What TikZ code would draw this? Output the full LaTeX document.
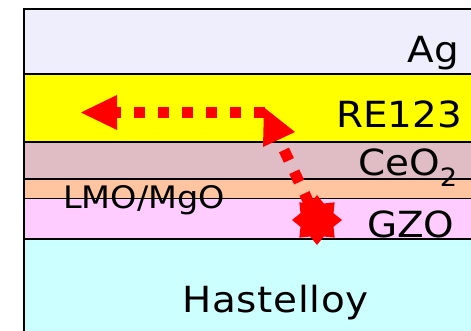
\documentclass[tikz,border=0pt]{standalone}
\usepackage{fontspec}
\setmainfont{DejaVu Sans}[FakeStretch=1.08]
\usetikzlibrary{shapes.geometric,arrows.meta}
\definecolor{agfill}{RGB}{238,238,252}
\definecolor{refill}{RGB}{255,255,0}
\definecolor{cefill}{RGB}{224,188,196}
\definecolor{lmofill}{RGB}{255,196,160}
\definecolor{gzofill}{RGB}{255,204,255}
\definecolor{hastfill}{RGB}{204,255,255}

\begin{document}
\begin{tikzpicture}
[
    x=1pt, y=-1pt,
    film/.style={draw=black, line width=1.3pt},
    filmtext/.style={inner sep=0pt, font=\fontsize{36}{40}\selectfont},
    hop/.style={red, line width=11pt, dash pattern=on 11.5pt off 12.5pt},
    defect/.style={star, star points=8, star point ratio=1.4, minimum size=50pt,
        inner sep=0pt, fill=red},
]
\useasboundingbox (0,0) rectangle (471,331);
\clip (0,0) rectangle (471,331);
\fill[white] (0,0) rectangle (471,331);
% the film stack
\filldraw[film, fill=agfill]   (24,9)     rectangle (480,74);
\filldraw[film, fill=refill]   (24,74)    rectangle (480,142);
\filldraw[film, fill=cefill]   (24,142)   rectangle (480,179);
\filldraw[film, fill=lmofill]  (24,179)   rectangle (480,198.5);
\filldraw[film, fill=gzofill]  (24,198.5) rectangle (480,239);
\filldraw[film, fill=hastfill] (24,239)   rectangle (480,340);
\draw[line width=2pt] (24,340) -- (24,9) -- (480,9);
\node[filmtext, anchor=base east] (ag) at (459,63) {Ag};
\node[filmtext, anchor=base east] (re) at (462,128) {RE123};
\node[filmtext, anchor=base west] (ce) at (358,176) {CeO\textsubscript{2}};
\node[filmtext, anchor=base west, font=\fontsize{31}{36}\selectfont] (lmo) at (63,209) {LMO/MgO};
\node[filmtext, anchor=base west] (gzo) at (367,237) {GZO};
\node[filmtext, anchor=base west] (hast) at (182,312) {\addfontfeature{LetterSpace=2}Hastelloy};
% diffusion path
\coordinate (tip) at (81,112.5);
\coordinate (bend) at (265,112.5);
\coordinate (kink) at (284,150);
\coordinate (spot) at (317,220);
\draw[hop, -{Triangle[length=36pt, width=35pt, line width=0pt]}] (bend) -- (tip);
\fill[red] (264,107.5) -- (295,132) -- (263,147) -- cycle;
\draw[hop] (kink) -- (spot);
\node[defect] (source) at (spot) {};
\end{tikzpicture}
\end{document}
